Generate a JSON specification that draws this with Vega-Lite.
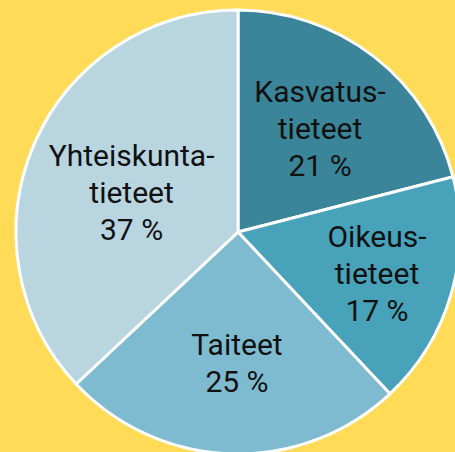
{
  "$schema": "https://vega.github.io/schema/vega-lite/v6.json",
  "autosize": "none",
  "width": 434,
  "height": 440,
  "padding": {"left": 21, "top": 12, "right": 0, "bottom": 0},
  "background": "#FFDB58",
  "config": {"view": {"stroke": null}},
  "data": {
    "values": [
      {"ala": "Kasvatustieteet", "osuus": 21, "label": "Kasvatus-\ntieteet\n21 %"},
      {"ala": "Oikeustieteet", "osuus": 17, "label": "Oikeus-\ntieteet\n17 %"},
      {"ala": "Taiteet", "osuus": 25, "label": "Taiteet\n25 %"},
      {"ala": "Yhteiskuntatieteet", "osuus": 37, "label": "Yhteiskunta-\ntieteet\n37 %"}
    ]
  },
  "encoding": {
    "theta": {"field": "osuus", "type": "quantitative", "stack": true},
    "order": {"field": "ala", "type": "nominal", "sort": "ascending"}
  },
  "layer": [
    {
      "mark": {"type": "arc", "outerRadius": 222, "stroke": "white", "strokeWidth": 3},
      "encoding": {
        "color": {
          "field": "ala", "type": "nominal", "legend": null,
          "scale": {
            "domain": ["Kasvatustieteet", "Oikeustieteet", "Taiteet", "Yhteiskuntatieteet"],
            "range": ["#3A8599", "#48A2B9", "#7FBBD0", "#B8D5E0"]
          }
        }
      }
    },
    {
      "mark": {"type": "text", "radius": 131, "thetaOffset": 0.017, "dy": -37, "font": "Roboto", "fontSize": 30, "lineHeight": 37, "lineBreak": "\n", "align": "center", "baseline": "middle", "color": "#111111"},
      "encoding": {"text": {"condition": {"test": "datum.ala !== 'Kasvatustieteet'", "value": ""}, "field": "label", "type": "nominal"}}
    },
    {
      "mark": {"type": "text", "radius": 145.5, "thetaOffset": 0.017, "dy": -37, "font": "Roboto", "fontSize": 30, "lineHeight": 37, "lineBreak": "\n", "align": "center", "baseline": "middle", "color": "#111111"},
      "encoding": {"text": {"condition": {"test": "datum.ala !== 'Oikeustieteet'", "value": ""}, "field": "label", "type": "nominal"}}
    },
    {
      "mark": {"type": "text", "radius": 133, "thetaOffset": -0.024, "dy": -18.5, "font": "Roboto", "fontSize": 30, "lineHeight": 37, "lineBreak": "\n", "align": "center", "baseline": "middle", "color": "#111111"},
      "encoding": {"text": {"condition": {"test": "datum.ala !== 'Taiteet'", "value": ""}, "field": "label", "type": "nominal"}}
    },
    {
      "mark": {"type": "text", "radius": 113, "thetaOffset": -0.066, "dy": -37, "font": "Roboto", "fontSize": 30, "lineHeight": 37, "lineBreak": "\n", "align": "center", "baseline": "middle", "color": "#111111"},
      "encoding": {"text": {"condition": {"test": "datum.ala !== 'Yhteiskuntatieteet'", "value": ""}, "field": "label", "type": "nominal"}}
    }
  ]
}
